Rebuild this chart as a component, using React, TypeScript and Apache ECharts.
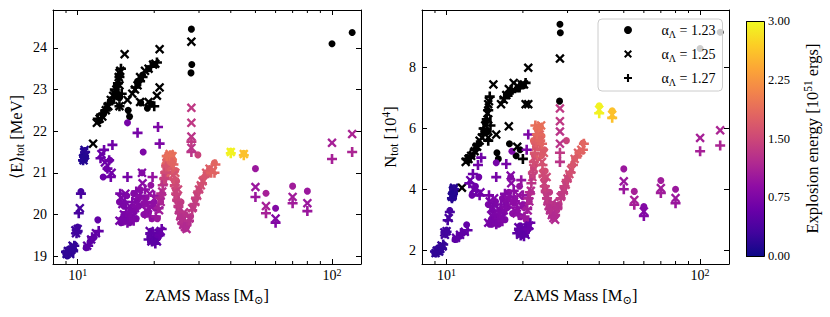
import React, { useEffect, useRef } from "react";
import * as echarts from "echarts";

const FONT = "'Liberation Serif', 'DejaVu Serif', serif";

// legend labels (alpha_Lambda values)
const alphaLabels = ["1.23", "1.25", "1.27"];

// rows: [ZAMS mass (Msun), <E>_tot (MeV), N_tot (1e4), explosion energy (1e51 erg, -1 = no explosion)]
const alpha123 = [
  [9.0, 19.03, 1.88, 0.18], [9.2, 19.08, 1.95, 0.2], [9.4, 19.12, 2.02, 0.2], [9.6, 19.18, 2.1, 0.22],
  [9.1, 19.0, 1.9, 0.15], [9.3, 19.15, 2.0, 0.2], [9.5, 19.1, 2.05, 0.2], [10.0, 19.7, 2.65, 0.3],
  [9.9, 19.6, 2.55, 0.3], [10.3, 20.55, 3.3, 0.35], [10.5, 21.3, 3.7, 0.15],
  [10.6, 21.45, 3.95, 0.12], [10.7, 21.35, 3.8, 0.12],
  [10.8, 19.2, 2.35, 0.5], [11.2, 19.35, 2.45, 0.5], [11.6, 19.45, 2.55, 0.52], [12.0, 19.87, 2.83, 0.55],
  [12.6, 20.9, 3.8, 0.62], [13.0, 21.1, 4.1, 0.65], [13.4, 21.3, 4.4, 0.65],
  [12.2, 22.25, 4.95, -1], [13.0, 22.55, 5.3, -1], [14.0, 22.9, 5.9, -1], [14.5, 23.3, 6.6, -1],
  [15.8, 22.5, 5.2, -1], [16.0, 22.35, 5.0, -1], [17.7, 22.68, 5.5, -1], [18.8, 22.55, 5.1, -1],
  [19.5, 22.65, 5.3, -1], [17.2, 23.2, 7.1, -1], [19.0, 23.5, 7.3, -1],
  [12.6, 22.4, 5.1, -1], [13.4, 22.7, 5.5, -1], [14.2, 23.1, 6.2, -1], [14.6, 22.8, 5.9, -1],
  [18.0, 23.35, 7.25, -1], [20.0, 23.6, 7.4, -1],
  [15.7, 22.2, 4.87, 0.7], [18.1, 21.5, 5.25, 0.75], [17.9, 21.0, 4.4, 0.8],
  [14.6, 20.3, 3.5, 0.75], [15.0, 19.9, 3.0, 0.72], [15.4, 19.85, 2.95, 0.72], [15.8, 19.95, 3.1, 0.75],
  [16.2, 20.1, 3.3, 0.78], [16.6, 20.5, 3.7, 0.8], [17.0, 19.9, 3.0, 0.75], [17.4, 20.2, 3.4, 0.8],
  [14.8, 19.8, 2.85, 0.7], [15.2, 20.2, 3.3, 0.73], [15.6, 20.45, 3.6, 0.76], [16.0, 19.8, 2.85, 0.72],
  [16.4, 19.9, 3.0, 0.75], [16.8, 20.1, 3.25, 0.78], [17.2, 20.35, 3.55, 0.82], [17.6, 20.6, 3.9, 0.85],
  [18.4, 20.25, 3.55, 0.88], [19.0, 20.05, 3.25, 0.9], [19.6, 19.9, 3.1, 0.92], [20.2, 20.15, 3.4, 0.95],
  [19.2, 19.45, 2.6, 0.5], [19.8, 19.4, 2.55, 0.52], [20.4, 19.5, 2.7, 0.55], [21.0, 19.6, 2.85, 0.58],
  [19.5, 19.6, 2.8, 0.55], [20.0, 19.35, 2.5, 0.5], [20.7, 19.45, 2.6, 0.55],
  [18.2, 20.0, 3.2, 0.85], [18.6, 20.4, 3.7, 0.9], [19.4, 20.7, 4.1, 0.95], [20.0, 20.3, 3.5, 0.9],
  [20.6, 19.9, 3.0, 1.0], [21.2, 20.3, 3.6, 1.15], [21.8, 20.8, 4.4, 1.4], [22.2, 21.1, 5.1, 1.6],
  [22.6, 21.35, 5.7, 1.8], [23.0, 21.4, 6.0, 1.9],
  [21.5, 20.5, 3.9, 1.25], [22.0, 20.95, 4.7, 1.5], [22.4, 21.25, 5.4, 1.7], [22.8, 21.42, 5.95, 1.88],
  [23.2, 21.35, 5.9, 1.85], [23.7, 21.0, 5.1, 1.65], [24.2, 20.6, 4.3, 1.5], [24.7, 20.3, 3.85, 1.38],
  [22.3, 20.9, 4.8, 1.55], [23.5, 21.45, 6.05, 1.9], [24.5, 20.8, 4.6, 1.55], [25.5, 20.3, 3.9, 1.35], [26.5, 20.0, 3.5, 1.3],
  [23.8, 21.3, 5.75, 1.85], [24.3, 21.05, 5.3, 1.7], [22.0, 21.2, 5.6, 1.8],
  [23.5, 21.2, 5.5, 1.75], [24.0, 20.8, 4.6, 1.55], [24.5, 20.4, 4.0, 1.4], [25.0, 20.1, 3.6, 1.3],
  [25.6, 19.8, 3.3, 1.25], [26.4, 19.65, 3.05, 1.2], [25.3, 19.95, 3.45, 1.28], [26.0, 19.75, 3.2, 1.22],
  [26.8, 19.7, 3.1, 1.22], [27.8, 19.95, 3.5, 1.3], [29.0, 20.35, 4.0, 1.4], [30.0, 20.6, 4.35, 1.5],
  [32.0, 21.0, 5.0, 1.7], [34.5, 21.24, 5.52, 1.8],
  [27.2, 19.8, 3.3, 1.25], [28.5, 20.2, 3.8, 1.35], [29.5, 20.5, 4.2, 1.45], [30.5, 20.7, 4.5, 1.55],
  [31.5, 20.9, 4.8, 1.65], [33.0, 21.1, 5.2, 1.75],
  [28.0, 24.45, 9.43, -1], [28.1, 23.6, 9.15, -1], [27.9, 23.4, 6.9, -1], [29.7, 21.43, 5.6, 1.45],
  [40, 21.52, 6.75, 2.95], [45, 21.47, 6.58, 2.6], [50, 21.1, 4.67, 1.0], [55, 20.51, 3.93, 1.1],
  [60, 20.15, 3.43, 0.8], [70, 20.68, 4.29, 1.05], [80, 20.56, 4.0, 1.0], [100, 24.1, 8.63, -1], [120, 24.37, 9.17, -1],
];

const alpha125 = [
  [9.05, 19.05, 1.9, 0.18], [9.25, 19.1, 1.97, 0.2], [9.45, 19.15, 2.04, 0.2], [9.65, 19.22, 2.12, 0.22],
  [9.15, 19.12, 1.98, 0.2], [9.35, 19.05, 1.95, 0.18], [9.55, 19.25, 2.15, 0.22], [9.8, 19.62, 2.58, 0.3],
  [9.85, 19.55, 2.5, 0.3], [10.0, 19.65, 2.62, 0.3], [10.2, 20.15, 3.05, 0.35],
  [10.5, 21.35, 3.75, 0.12], [10.6, 21.5, 3.95, 0.12], [10.7, 21.42, 4.05, 0.15], [11.5, 21.7, 4.05, -1],
  [10.55, 21.3, 3.8, 0.12], [10.65, 21.55, 4.0, 0.12],
  [10.9, 19.25, 2.4, 0.5], [11.3, 19.4, 2.5, 0.5], [11.8, 19.55, 2.6, 0.52],
  [12.4, 21.45, 4.3, 0.6], [12.8, 21.25, 4.0, 0.62], [13.6, 21.0, 3.9, 0.65],
  [11.9, 22.2, 4.9, -1], [12.5, 22.35, 5.1, -1], [13.2, 22.6, 5.4, -1], [13.8, 22.85, 5.7, -1],
  [14.2, 23.0, 6.1, -1], [14.5, 23.3, 6.5, -1], [14.7, 23.45, 6.9, -1], [15.3, 23.85, 7.45, -1],
  [15.7, 22.75, 5.8, -1], [16.8, 23.0, 6.95, -1], [17.6, 23.3, 7.3, -1], [18.4, 23.45, 7.5, -1],
  [19.8, 23.6, 7.45, -1], [21.0, 23.97, 8.0, -1], [21.0, 23.05, 6.8, -1], [20.5, 22.85, 6.8, -1], [17.6, 22.7, 6.07, -1],
  [12.2, 22.3, 5.0, -1], [12.9, 22.5, 5.25, -1], [13.5, 22.75, 5.6, -1], [14.0, 22.9, 5.9, -1],
  [14.6, 22.6, 5.7, -1], [14.6, 23.1, 6.3, -1], [14.6, 23.4, 6.8, -1], [16.4, 22.9, 6.8, -1],
  [17.2, 23.1, 7.1, -1], [19.0, 23.5, 7.4, -1], [20.2, 23.62, 7.45, -1], [19.0, 22.7, 5.4, -1],
  [14.8, 20.4, 3.6, 0.72], [15.2, 20.0, 3.1, 0.72], [15.6, 19.9, 3.0, 0.74], [16.0, 20.2, 3.35, 0.76],
  [16.5, 19.95, 3.05, 0.75], [17.1, 20.3, 3.5, 0.8],
  [14.6, 19.85, 2.9, 0.7], [15.0, 20.25, 3.35, 0.73], [15.4, 20.5, 3.7, 0.76], [15.8, 19.85, 2.9, 0.72],
  [16.2, 19.95, 3.05, 0.75], [16.8, 20.15, 3.3, 0.78], [17.4, 20.45, 3.7, 0.82], [18.3, 20.35, 3.6, 0.88],
  [18.9, 20.0, 3.2, 0.9], [19.8, 20.2, 3.45, 0.92], [17.9, 21.0, 4.45, 0.8],
  [19.5, 19.35, 2.5, 0.5], [20.2, 19.45, 2.6, 0.52], [20.8, 19.55, 2.75, 0.55],
  [19.2, 19.6, 2.75, 0.55], [20.5, 19.35, 2.5, 0.5], [21.2, 19.6, 2.8, 0.58],
  [18.0, 20.75, 4.2, 0.85], [18.6, 20.1, 3.3, 0.88], [19.2, 20.5, 3.8, 0.92],
  [20.9, 20.1, 3.3, 1.05], [21.5, 20.55, 3.95, 1.25], [22.0, 20.95, 4.7, 1.5], [22.4, 21.25, 5.4, 1.7], [22.8, 21.4, 5.9, 1.85],
  [21.2, 20.3, 3.6, 1.15], [21.8, 20.8, 4.4, 1.4], [22.2, 21.1, 5.05, 1.6], [22.6, 21.35, 5.7, 1.8],
  [23.0, 21.45, 6.05, 1.9], [23.5, 21.15, 5.4, 1.72], [24.0, 20.75, 4.5, 1.55], [24.5, 20.4, 4.0, 1.4],
  [25.0, 20.1, 3.6, 1.3], [25.6, 19.85, 3.3, 1.25], [26.4, 19.7, 3.05, 1.2], [23.2, 21.0, 5.0, 1.75],
  [24.8, 20.6, 4.4, 1.5], [26.2, 20.05, 3.55, 1.28], [23.6, 21.4, 6.1, 1.9], [24.2, 21.0, 5.2, 1.7],
  [23.3, 21.3, 5.8, 1.8], [23.8, 20.95, 4.9, 1.6], [24.3, 20.55, 4.2, 1.45], [24.8, 20.25, 3.8, 1.35],
  [25.3, 19.95, 3.45, 1.28], [26.0, 19.75, 3.15, 1.22], [26.8, 19.65, 3.0, 1.2],
  [27.5, 19.9, 3.45, 1.28], [29.0, 20.3, 3.95, 1.4], [30.0, 20.6, 4.35, 1.5], [31.0, 20.8, 4.65, 1.6],
  [32.0, 21.0, 5.0, 1.7], [34.0, 21.05, 5.3, 1.8],
  [28.2, 20.15, 3.75, 1.35], [29.5, 20.45, 4.15, 1.45], [30.5, 20.7, 4.5, 1.55], [33.0, 21.1, 5.2, 1.75],
  [28.0, 24.15, 8.3, -1], [28.0, 22.56, 6.66, 1.35], [28.0, 22.2, 6.24, 1.35], [28.0, 21.87, 5.9, 1.3], [28.0, 21.6, 5.5, 1.3],
  [40, 21.5, 6.62, 2.95], [45, 21.45, 6.45, 2.6], [50, 20.66, 4.26, 1.0], [55, 20.2, 3.65, 1.1],
  [60, 19.9, 3.27, 0.8], [70, 20.42, 4.04, 1.05], [80, 20.27, 3.71, 1.0], [100, 21.72, 5.69, 1.1], [120, 21.93, 5.94, 1.15],
];

const alpha127 = [
  [9.1, 19.07, 1.92, 0.2], [9.3, 19.12, 2.0, 0.2], [9.5, 19.18, 2.08, 0.22], [9.7, 19.25, 2.18, 0.22],
  [9.0, 19.1, 1.95, 0.2], [9.4, 19.2, 2.1, 0.22], [9.6, 19.12, 2.05, 0.2], [10.0, 19.6, 2.6, 0.3],
  [9.9, 19.55, 2.55, 0.3], [10.1, 20.03, 2.98, 0.35], [10.3, 20.5, 3.25, 0.35],
  [10.5, 21.3, 3.7, 0.15], [10.7, 21.5, 4.0, 0.18], [10.6, 21.4, 3.85, 0.12],
  [11.0, 19.25, 2.4, 0.5], [11.4, 19.45, 2.55, 0.52], [12.1, 19.6, 2.65, 0.55],
  [12.3, 21.35, 4.2, 0.6], [12.7, 21.55, 4.5, 0.62], [13.1, 21.1, 3.95, 0.63], [13.5, 20.9, 3.8, 0.65],
  [13.7, 21.67, 5.04, 0.65], [13.3, 21.3, 4.8, 0.65],
  [12.0, 22.3, 5.0, -1], [12.9, 22.5, 5.3, -1], [13.9, 22.8, 5.8, -1], [14.4, 23.15, 6.3, -1],
  [14.8, 23.5, 7.05, -1], [14.6, 22.6, 5.6, -1], [14.9, 22.9, 6.1, -1],
  [18.0, 23.3, 7.2, -1], [19.4, 23.55, 7.35, -1], [20.0, 22.6, 5.0, -1],
  [12.4, 22.4, 5.1, -1], [13.2, 22.65, 5.45, -1], [14.0, 23.0, 6.0, -1], [14.6, 23.3, 6.6, -1],
  [16.9, 23.05, 7.0, -1], [17.6, 23.2, 7.15, -1], [20.5, 23.65, 7.5, -1],
  [17.2, 21.96, 4.83, 0.7], [20.7, 22.1, 5.3, 0.75], [21.0, 21.7, 5.8, 0.75], [15.7, 20.9, 4.4, 0.7],
  [14.7, 20.5, 3.8, 0.72], [15.1, 19.85, 2.9, 0.72], [15.5, 20.05, 3.15, 0.74], [16.0, 19.9, 3.0, 0.75],
  [16.4, 20.3, 3.5, 0.78], [17.0, 20.55, 3.85, 0.8],
  [14.9, 19.9, 2.95, 0.71], [15.3, 20.3, 3.45, 0.73], [15.7, 19.8, 2.85, 0.73], [16.2, 20.05, 3.2, 0.76],
  [16.6, 19.85, 2.95, 0.76], [17.2, 20.2, 3.4, 0.8], [17.6, 20.45, 3.75, 0.84], [18.6, 20.3, 3.6, 0.88],
  [19.3, 19.95, 3.15, 0.9], [20.0, 20.45, 3.8, 0.95],
  [19.0, 19.4, 2.55, 0.5], [19.6, 19.35, 2.48, 0.5], [20.5, 19.55, 2.7, 0.55], [21.4, 19.65, 2.9, 0.6],
  [19.3, 19.55, 2.7, 0.52], [20.2, 19.3, 2.45, 0.5], [21.0, 19.5, 2.7, 0.58],
  [18.4, 20.6, 3.95, 0.88], [19.0, 20.2, 3.4, 0.9], [19.7, 20.9, 4.3, 0.95],
  [20.3, 19.95, 3.1, 1.0], [21.0, 20.4, 3.7, 1.15], [21.6, 20.7, 4.2, 1.3], [22.1, 21.0, 4.9, 1.55],
  [22.5, 21.3, 5.55, 1.75], [22.9, 21.38, 6.0, 1.9],
  [20.8, 20.15, 3.35, 1.05], [21.3, 20.5, 3.9, 1.2], [21.9, 20.85, 4.55, 1.45], [22.3, 21.15, 5.2, 1.65],
  [22.7, 21.35, 5.8, 1.85], [23.1, 21.42, 6.05, 1.9], [23.6, 21.1, 5.3, 1.7], [24.1, 20.7, 4.45, 1.52],
  [24.6, 20.35, 3.95, 1.4], [25.2, 20.05, 3.55, 1.3], [25.8, 19.8, 3.25, 1.25], [26.8, 19.75, 3.15, 1.22],
  [23.8, 21.2, 5.5, 1.8], [22.4, 21.4, 6.1, 1.9],
  [23.4, 21.25, 5.6, 1.8], [23.9, 20.85, 4.8, 1.6], [24.4, 20.5, 4.1, 1.45], [24.9, 20.2, 3.7, 1.35],
  [25.5, 19.9, 3.35, 1.25], [26.3, 19.7, 3.1, 1.2],
  [27.4, 19.85, 3.4, 1.25], [28.8, 20.25, 3.9, 1.38], [29.8, 20.55, 4.3, 1.48], [30.8, 20.75, 4.55, 1.58],
  [32.5, 21.0, 5.05, 1.72], [34.5, 21.0, 5.3, 1.8],
  [28.2, 20.1, 3.7, 1.35], [29.2, 20.4, 4.1, 1.43], [31.5, 20.9, 4.8, 1.65], [33.5, 21.0, 5.2, 1.78], [34.8, 21.2, 5.5, 1.82],
  [28.0, 21.75, 5.2, 1.35], [28.0, 21.5, 4.9, 1.3],
  [40, 21.47, 6.5, 2.95], [45, 21.42, 6.35, 2.6], [50, 20.42, 4.0, 1.0], [55, 20.03, 3.49, 1.1],
  [60, 19.8, 3.12, 0.8], [70, 20.27, 3.88, 1.05], [80, 20.08, 3.54, 1.0], [100, 21.33, 5.25, 1.1], [120, 21.5, 5.44, 1.15],
];

const minorTickMasses = [9, 20, 30, 40, 50, 60, 70, 80, 90];
const colorbarTicks = [0, 0.75, 1.5, 2.25, 3];
const plasma = ["#0d0887", "#41049d", "#6a00a8", "#8f0da4", "#b12a90", "#cc4778", "#e16462", "#f2844b", "#fca636", "#fcce25", "#f0f921"];

const X_MIN = 8, X_MAX = 130;
const E_MIN = 18.81, E_MAX = 24.91;
const N_MIN = 1.54, N_MAX = 9.9;

const SYM_X = "path://M1.75,0 L5,3.25 L8.25,0 L10,1.75 L6.75,5 L10,8.25 L8.25,10 L5,6.75 L1.75,10 L0,8.25 L3.25,5 L0,1.75 Z";
const SYM_PLUS = "path://M3.7,0 H6.3 V3.7 H10 V6.3 H6.3 V10 H3.7 V6.3 H0 V3.7 H3.7 Z";

const rich = {
  n: { fontFamily: FONT, fontSize: 16.5, color: "#000", lineHeight: 20 },
  sub: { fontFamily: FONT, fontSize: 11.5, color: "#000", lineHeight: 11, verticalAlign: "bottom" },
  sup: { fontFamily: FONT, fontSize: 11.5, color: "#000", lineHeight: 11, verticalAlign: "top" },
  t: { fontFamily: FONT, fontSize: 14, color: "#000", lineHeight: 17 },
  ts: { fontFamily: FONT, fontSize: 10, color: "#000", lineHeight: 10, verticalAlign: "top" },
};

function logLabel(v: number) {
  if (Math.abs(v - 10) < 1e-6) return "{t|10}{ts|1}";
  if (Math.abs(v - 100) < 1e-6) return "{t|10}{ts|2}";
  return "";
}

function intLabel(v: number) {
  return Math.abs(v - Math.round(v)) < 1e-6 ? String(Math.round(v)) : "";
}

function xAxes(gridIndex: number) {
  const common = {
    type: "log", logBase: 10, gridIndex, min: X_MIN, max: X_MAX,
    axisLine: { show: true, onZero: false, lineStyle: { color: "#000", width: 1 } },
    axisTick: { show: true, inside: true, length: 5, lineStyle: { color: "#000", width: 1 } },
    splitLine: { show: false },
  };
  return [
    {
      ...common, position: "bottom",
      axisLabel: { formatter: logLabel, margin: 3, rich },
      name: "{n|ZAMS Mass [M}{sub|⊙}{n|]}", nameLocation: "middle", nameGap: 20,
      nameTextStyle: { rich },
    },
    { ...common, position: "top", axisLabel: { show: false } },
  ];
}

function yAxes(gridIndex: number, min: number, max: number, step: number, name: string, gap: number) {
  const common = {
    type: "value", gridIndex, min, max, minInterval: step, maxInterval: step,
    axisLine: { show: true, onZero: false, lineStyle: { color: "#000", width: 1 } },
    axisTick: { show: true, inside: true, length: 5, lineStyle: { color: "#000", width: 1 } },
    splitLine: { show: false },
  };
  return [
    {
      ...common, position: "left",
      axisLabel: { formatter: intLabel, margin: 6, fontFamily: FONT, fontSize: 14, color: "#000" },
      name, nameLocation: "middle", nameGap: gap, nameRotate: 90, nameTextStyle: { rich },
    },
    { ...common, position: "right", axisLabel: { show: false } },
  ];
}

function minorTickSeries(xAxisIndex: number, yAxisIndex: number, yMin: number, yMax: number) {
  return {
    type: "custom", xAxisIndex, yAxisIndex, silent: true, clip: false, z: 5,
    data: minorTickMasses.map((m) => [m, yMin]),
    encode: { x: 0, y: 1 },
    renderItem: (_p: any, api: any) => {
      const m = api.value(0);
      const b = api.coord([m, yMin]);
      const t = api.coord([m, yMax]);
      return {
        type: "group",
        children: [
          { type: "line", shape: { x1: b[0], y1: b[1], x2: b[0], y2: b[1] - 3 }, style: { stroke: "#000", lineWidth: 1 } },
          { type: "line", shape: { x1: t[0], y1: t[1], x2: t[0], y2: t[1] + 3 }, style: { stroke: "#000", lineWidth: 1 } },
        ],
      };
    },
  };
}

const datasets = [alpha123, alpha125, alpha127];
const symbols = ["circle", SYM_X, SYM_PLUS];
const sizes = [7, 9.5, 10];

export default function App() {
  const ref = useRef<HTMLDivElement>(null);
  useEffect(() => {
    if (!ref.current) return;
    const chart = echarts.init(ref.current, null, { renderer: "svg" });
    const scatter: any[] = [];
    [0, 1].forEach((panel) => {
      datasets.forEach((rows, k) => {
        scatter.push({
          type: "scatter",
          name: alphaLabels[k],
          xAxisIndex: panel * 2,
          yAxisIndex: panel * 2,
          data: rows,
          encode: { x: 0, y: panel === 0 ? 1 : 2 },
          symbol: symbols[k],
          symbolSize: sizes[k],
          symbolKeepAspect: true,
          itemStyle: { color: "#000", opacity: 1 },
          z: 2 + k,
        });
      });
    });
    const option: any = {
      animation: false,
      backgroundColor: "#fff",
      grid: [
        { left: 53, top: 10, width: 308, height: 254 },
        { left: 422, top: 10, width: 307, height: 254 },
        { left: 746, top: 21, width: 18, height: 235 },
      ],
      xAxis: [
        ...xAxes(0),
        ...xAxes(1),
        { type: "value", gridIndex: 2, show: false, min: 0, max: 1 },
      ],
      yAxis: [
        ...yAxes(0, E_MIN, E_MAX, 1, "{n|⟨E⟩}{sub|tot}{n| [MeV]}", 27),
        ...yAxes(1, N_MIN, N_MAX, 2, "{n|N}{sub|tot}{n| [10}{sup|4}{n|]}", 22),
        {
          type: "value", gridIndex: 2, position: "right", min: colorbarTicks[0], max: colorbarTicks[colorbarTicks.length - 1],
          interval: colorbarTicks[1] - colorbarTicks[0],
          axisLine: { show: false },
          axisTick: { show: true, inside: false, length: 3, lineStyle: { color: "#000" } },
          axisLabel: { formatter: (v: number) => v.toFixed(2), margin: 4, fontFamily: FONT, fontSize: 12.5, color: "#000" },
          splitLine: { show: false },
          name: "{n|Explosion energy [10}{sup|51}{n| ergs]}", nameLocation: "middle", nameGap: 38, nameRotate: 90,
          nameTextStyle: { rich },
        },
      ],
      visualMap: {
        type: "continuous", show: false, min: 0, max: 3, range: [0.001, 3], dimension: 3,
        seriesIndex: [0, 1, 2, 3, 4, 5],
        inRange: { color: plasma },
        outOfRange: { color: ["#000000"] },
      },
      legend: {
        data: alphaLabels,
        left: 598, top: 19, orient: "vertical",
        padding: [4, 7, 4, 26],
        itemGap: 8, itemWidth: 9, itemHeight: 8,
        backgroundColor: "rgba(255,255,255,0.8)",
        borderColor: "#cccccc", borderWidth: 1, borderRadius: 4,
        selectedMode: false,
        itemStyle: { color: "#000" },
        formatter: (name: string) => `{g0|α}{s|Λ}{g| = ${name}}`,
        textStyle: {
          rich: {
            g0: { fontFamily: FONT, fontSize: 14, color: "#000", lineHeight: 18, padding: [0, 0, 0, 24] },
            g: { fontFamily: FONT, fontSize: 14, color: "#000", lineHeight: 18 },
            s: { fontFamily: FONT, fontSize: 10, color: "#000", lineHeight: 10, verticalAlign: "bottom" },
          },
        },
      },
      graphic: [
        {
          type: "rect", left: 746, top: 21, z: 10,
          shape: { width: 18, height: 235 },
          style: {
            fill: {
              type: "linear", x: 0, y: 1, x2: 0, y2: 0,
              colorStops: plasma.map((c, i) => ({ offset: i / (plasma.length - 1), color: c })),
            },
            stroke: "#000", lineWidth: 1,
          },
        },
      ],
      series: [
        ...scatter,
        minorTickSeries(0, 0, E_MIN, E_MAX),
        minorTickSeries(2, 2, N_MIN, N_MAX),
      ],
    };
    chart.setOption(option);
    return () => chart.dispose();
  }, []);
  return <div ref={ref} style={{ position: "fixed", left: 0, top: 0, width: 830, height: 317 }} />;
}
